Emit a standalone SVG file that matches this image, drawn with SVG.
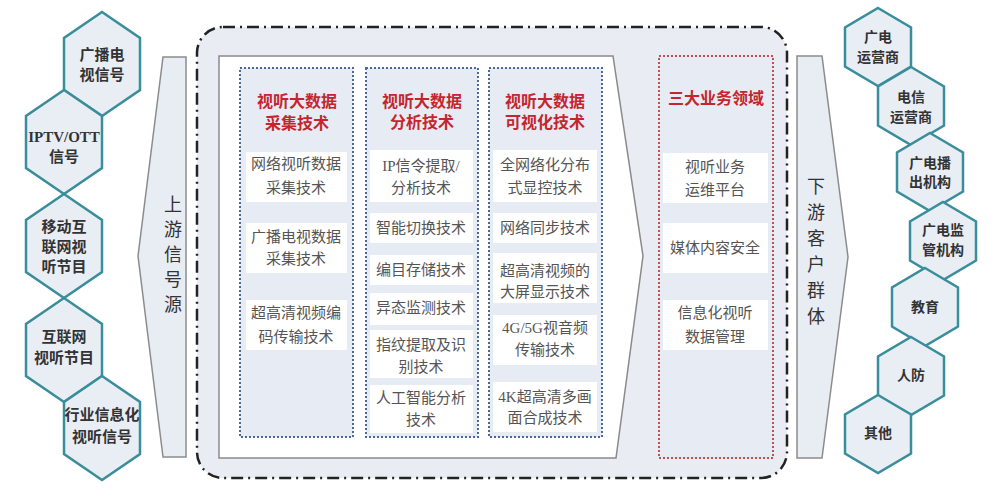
<svg xmlns="http://www.w3.org/2000/svg" width="1007" height="497" viewBox="0 0 1007 497">
<style>
.hex{fill:#e9eef5;stroke:#3a8e9b;stroke-width:2.5;stroke-linejoin:miter}
.ht{font-family:"Liberation Serif","Noto Sans CJK SC",serif;font-size:15px;font-weight:bold;fill:#333;text-anchor:middle;dominant-baseline:central}
.hts{font-family:"Liberation Serif","Noto Sans CJK SC",serif;font-size:14px;font-weight:bold;fill:#333;text-anchor:middle;dominant-baseline:central}
.arrow{fill:#e8ecf3;stroke:#8c8c8c;stroke-width:1.5}
.vt{font-family:"Noto Sans CJK SC",sans-serif;font-size:18px;fill:#333;text-anchor:middle;dominant-baseline:central}
.col{fill:#e7ebf3;stroke:#4b6896;stroke-width:2;stroke-dasharray:2 2}
.colr{fill:#e7ebf3;stroke:#c0504d;stroke-width:2;stroke-dasharray:2 2}
.box{fill:#ffffff}
.hd{font-family:"Liberation Serif","Noto Sans CJK SC",serif;font-size:16px;font-weight:bold;fill:#c4262e;text-anchor:middle;dominant-baseline:central}
.it{font-family:"Liberation Serif","Noto Sans CJK SC",serif;font-size:15px;fill:#555;text-anchor:middle;dominant-baseline:central}
</style>

<g id="connectors"></g>

<!-- left hexagons -->
<g id="src-1"><polygon class="hex" points="102,12 140,38 140,90 102,116 64,90 64,38"/><text class="ht" x="102" y="55">广播电</text><text class="ht" x="102" y="75">视信号</text></g>
<g id="src-2"><polygon class="hex" points="64,90 102,116 102,168 64,194 26,168 26,116"/><text class="ht" x="64" y="137">IPTV/OTT</text><text class="ht" x="64" y="157">信号</text></g>
<g id="src-3"><polygon class="hex" points="64,194 102,220 102,272 64,298 26,272 26,220"/><text class="ht" x="64" y="227">移动互</text><text class="ht" x="64" y="247">联网视</text><text class="ht" x="64" y="267">听节目</text></g>
<g id="src-4"><polygon class="hex" points="64,298 102,324 102,376 64,402 26,376 26,324"/><text class="ht" x="64" y="337">互联网</text><text class="ht" x="64" y="358">视听节目</text></g>
<g id="src-5"><polygon class="hex" points="102,376 140,402 140,454 102,480 64,454 64,402"/><text class="ht" x="102" y="415">行业信息化</text><text class="ht" x="102" y="437">视听信号</text></g>

<!-- upstream arrow -->
<g id="upstream"><polygon class="arrow" points="163,57 186,57 186,457 163,457 138,256"/>
<text class="vt" x="173" y="203">上</text><text class="vt" x="173" y="228">游</text><text class="vt" x="173" y="253">信</text><text class="vt" x="173" y="278">号</text><text class="vt" x="173" y="303">源</text></g>

<!-- main container -->
<g id="container">
<rect x="197" y="27" width="590" height="451" rx="26" ry="26" fill="#e9edf3" stroke="#222" stroke-width="2.5" stroke-dasharray="12 5 2 5"/>
<polygon points="219,56 613,56 643,256 616,458 219,458" fill="#ffffff" stroke="#8a8a8a" stroke-width="1.5"/>
</g>

<!-- column 1 -->
<g id="col-collect">
<rect class="col" x="240" y="68" width="113" height="369"/>
<text class="hd" x="297" y="101">视听大数据</text><text class="hd" x="297" y="123">采集技术</text>
<rect class="box" x="246" y="152" width="101" height="50"/><text class="it" x="296" y="164">网络视听数据</text><text class="it" x="296" y="188">采集技术</text>
<rect class="box" x="246" y="223" width="101" height="50"/><text class="it" x="296" y="237">广播电视数据</text><text class="it" x="296" y="259">采集技术</text>
<rect class="box" x="246" y="300" width="101" height="50"/><text class="it" x="296" y="313">超高清视频编</text><text class="it" x="296" y="337">码传输技术</text>
</g>

<!-- column 2 -->
<g id="col-analysis">
<rect class="col" x="366" y="68" width="112" height="369"/>
<text class="hd" x="422" y="101">视听大数据</text><text class="hd" x="422" y="122">分析技术</text>
<rect class="box" x="370" y="150" width="103" height="52"/><text class="it" x="421" y="166">IP信令提取/</text><text class="it" x="421" y="188">分析技术</text>
<rect class="box" x="370" y="213" width="103" height="30"/><text class="it" x="421" y="228">智能切换技术</text>
<rect class="box" x="370" y="255" width="103" height="30"/><text class="it" x="421" y="270">编目存储技术</text>
<rect class="box" x="370" y="293" width="103" height="32"/><text class="it" x="421" y="308">异态监测技术</text>
<rect class="box" x="370" y="330" width="103" height="48"/><text class="it" x="421" y="345">指纹提取及识</text><text class="it" x="421" y="367">别技术</text>
<rect class="box" x="370" y="385" width="103" height="48"/><text class="it" x="421" y="398">人工智能分析</text><text class="it" x="421" y="420">技术</text>
</g>

<!-- column 3 -->
<g id="col-visual">
<rect class="col" x="489" y="68" width="113" height="369"/>
<text class="hd" x="545" y="101">视听大数据</text><text class="hd" x="545" y="122">可视化技术</text>
<rect class="box" x="493" y="150" width="104" height="52"/><text class="it" x="545" y="165">全网络化分布</text><text class="it" x="545" y="188">式显控技术</text>
<rect class="box" x="493" y="213" width="104" height="30"/><text class="it" x="545" y="228">网络同步技术</text>
<rect class="box" x="493" y="253" width="104" height="50"/><text class="it" x="545" y="271">超高清视频的</text><text class="it" x="545" y="292">大屏显示技术</text>
<rect class="box" x="493" y="315" width="104" height="50"/><text class="it" x="545" y="328">4G/5G视音频</text><text class="it" x="545" y="350">传输技术</text>
<rect class="box" x="493" y="382" width="104" height="50"/><text class="it" x="545" y="397">4K超高清多画</text><text class="it" x="545" y="418">面合成技术</text>
</g>

<!-- red column -->
<g id="col-business">
<rect class="colr" x="659" y="56" width="114" height="402"/>
<text class="hd" x="716" y="98">三大业务领域</text>
<rect class="box" x="663" y="153" width="105" height="50"/><text class="it" x="715" y="167">视听业务</text><text class="it" x="715" y="190">运维平台</text>
<rect class="box" x="663" y="223" width="105" height="50"/><text class="it" x="715" y="248">媒体内容安全</text>
<rect class="box" x="663" y="300" width="105" height="50"/><text class="it" x="715" y="313">信息化视听</text><text class="it" x="715" y="337">数据管理</text>
</g>

<!-- downstream arrow -->
<g id="downstream"><polygon class="arrow" points="797,56 822,56 848,257 822,458 797,458"/>
<text class="vt" x="816" y="185">下</text><text class="vt" x="816" y="211">游</text><text class="vt" x="816" y="237">客</text><text class="vt" x="816" y="263">户</text><text class="vt" x="816" y="289">群</text><text class="vt" x="816" y="315">体</text></g>

<!-- right hexagons -->
<g id="dst-1"><polygon class="hex" points="878,8 911,27.5 911,66.5 878,86 845,66.5 845,27.5"/><text class="hts" x="878" y="37">广电</text><text class="hts" x="878" y="57">运营商</text></g>
<g id="dst-2"><polygon class="hex" points="911,67 944,86.5 944,125.5 911,145 878,125.5 878,86.5"/><text class="hts" x="911" y="97">电信</text><text class="hts" x="911" y="117">运营商</text></g>
<g id="dst-3"><polygon class="hex" points="930,133 963,152.5 963,191.5 930,211 897,191.5 897,152.5"/><text class="hts" x="930" y="163">广电播</text><text class="hts" x="930" y="182">出机构</text></g>
<g id="dst-4"><polygon class="hex" points="943,202 976,221.5 976,260.5 943,280 910,260.5 910,221.5"/><text class="hts" x="943" y="230">广电监</text><text class="hts" x="943" y="250">管机构</text></g>
<g id="dst-5"><polygon class="hex" points="925,268 958,287.5 958,326.5 925,346 892,326.5 892,287.5"/><text class="hts" x="925" y="307">教育</text></g>
<g id="dst-6"><polygon class="hex" points="911,337 944,356.5 944,395.5 911,415 878,395.5 878,356.5"/><text class="hts" x="911" y="375">人防</text></g>
<g id="dst-7"><polygon class="hex" points="878,395 911,414.5 911,453.5 878,473 845,453.5 845,414.5"/><text class="hts" x="878" y="433">其他</text></g>
</svg>
